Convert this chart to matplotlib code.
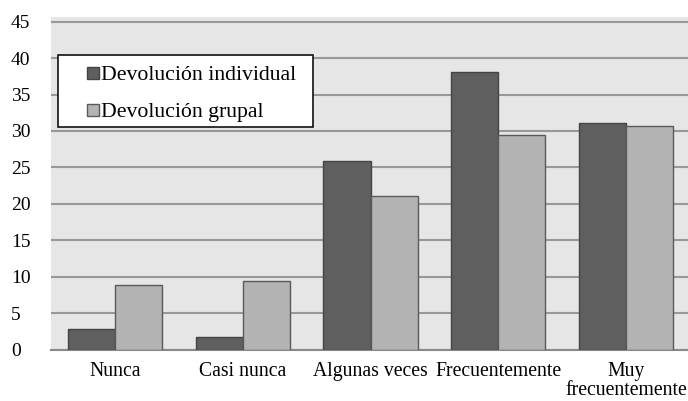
import matplotlib
matplotlib.use("Agg")
import matplotlib.pyplot as plt
from matplotlib.patches import Rectangle
import numpy as np

categories = ["Nunca", "Casi nunca", "Algunas veces", "Frecuentemente", "Muy\nfrecuentemente"]
individual = [2.8, 1.7, 25.9, 38.1, 31.1]
grupal = [8.8, 9.4, 21.1, 29.4, 30.7]
series_names = ["Devolución individual", "Devolución grupal"]
yticks = [0, 5, 10, 15, 20, 25, 30, 35, 40, 45]

W, H = 688, 401
plt.rcParams["font.family"] = ["Liberation Serif", "DejaVu Serif"]
fig = plt.figure(figsize=(W / 100, H / 100), dpi=100)

# axes placed in pixel coordinates
left, right, top, bottom = 51, 690, 17, 349.5
ax = fig.add_axes([left / W, 1 - bottom / H, (right - left) / W, (bottom - top) / H])
ax.set_facecolor("#e6e6e6")

x = np.arange(len(categories))
bw = 0.368
dark, light = "#5f5f5f", "#b3b3b3"
dark_edge, light_edge = "#444444", "#5a5a5a"
ax.bar(x - bw / 2, individual, bw, color=dark, edgecolor=dark_edge, linewidth=1.0, zorder=3)
ax.bar(x + bw / 2, grupal, bw, color=light, edgecolor=light_edge, linewidth=1.0, zorder=3)

ax.set_xlim(-0.5, len(categories) - 0.5)
ax.set_ylim(0, 45.65)
ax.set_yticks(yticks)
ax.set_yticklabels([str(v) for v in yticks], fontsize=14)
ax.yaxis.grid(True, color="#9b9797", linewidth=1.5, zorder=1)
ax.set_axisbelow(True)
ax.set_xticks(x)
ax.set_xticklabels(categories, fontsize=14.2, linespacing=0.98)
ax.tick_params(axis="both", length=0)
ax.tick_params(axis="x", pad=9)
ax.tick_params(axis="y", pad=(left - 11) * 0.72)
for lbl in ax.get_yticklabels():
    lbl.set_horizontalalignment("left")
for s in ["left", "right", "top"]:
    ax.spines[s].set_visible(False)
ax.spines["bottom"].set_color("#8c8888")
ax.spines["bottom"].set_linewidth(1.5)


# legend box drawn in figure pixel coordinates (origin top-left)
def fx(v):
    return v / W


def fy(v):
    return 1 - v / H


fig.patches.append(Rectangle((fx(58), fy(127)), fx(313) - fx(58), fy(55) - fy(127),
                             transform=fig.transFigure, facecolor="white",
                             edgecolor="#111111", linewidth=1.2, zorder=5))
rows = [73, 110]
for name, fc, ec, yc in zip(series_names, [dark, light], [dark_edge, light_edge], rows):
    fig.patches.append(Rectangle((fx(87), fy(yc + 6)), fx(99) - fx(87), fy(yc - 6) - fy(yc + 6),
                                 transform=fig.transFigure, facecolor=fc, edgecolor=ec,
                                 linewidth=1.0, zorder=6))
    fig.text(fx(101), fy(yc), name, fontsize=15.7, va="center_baseline", ha="left", zorder=7)

fig.savefig("out.png", dpi=100)
